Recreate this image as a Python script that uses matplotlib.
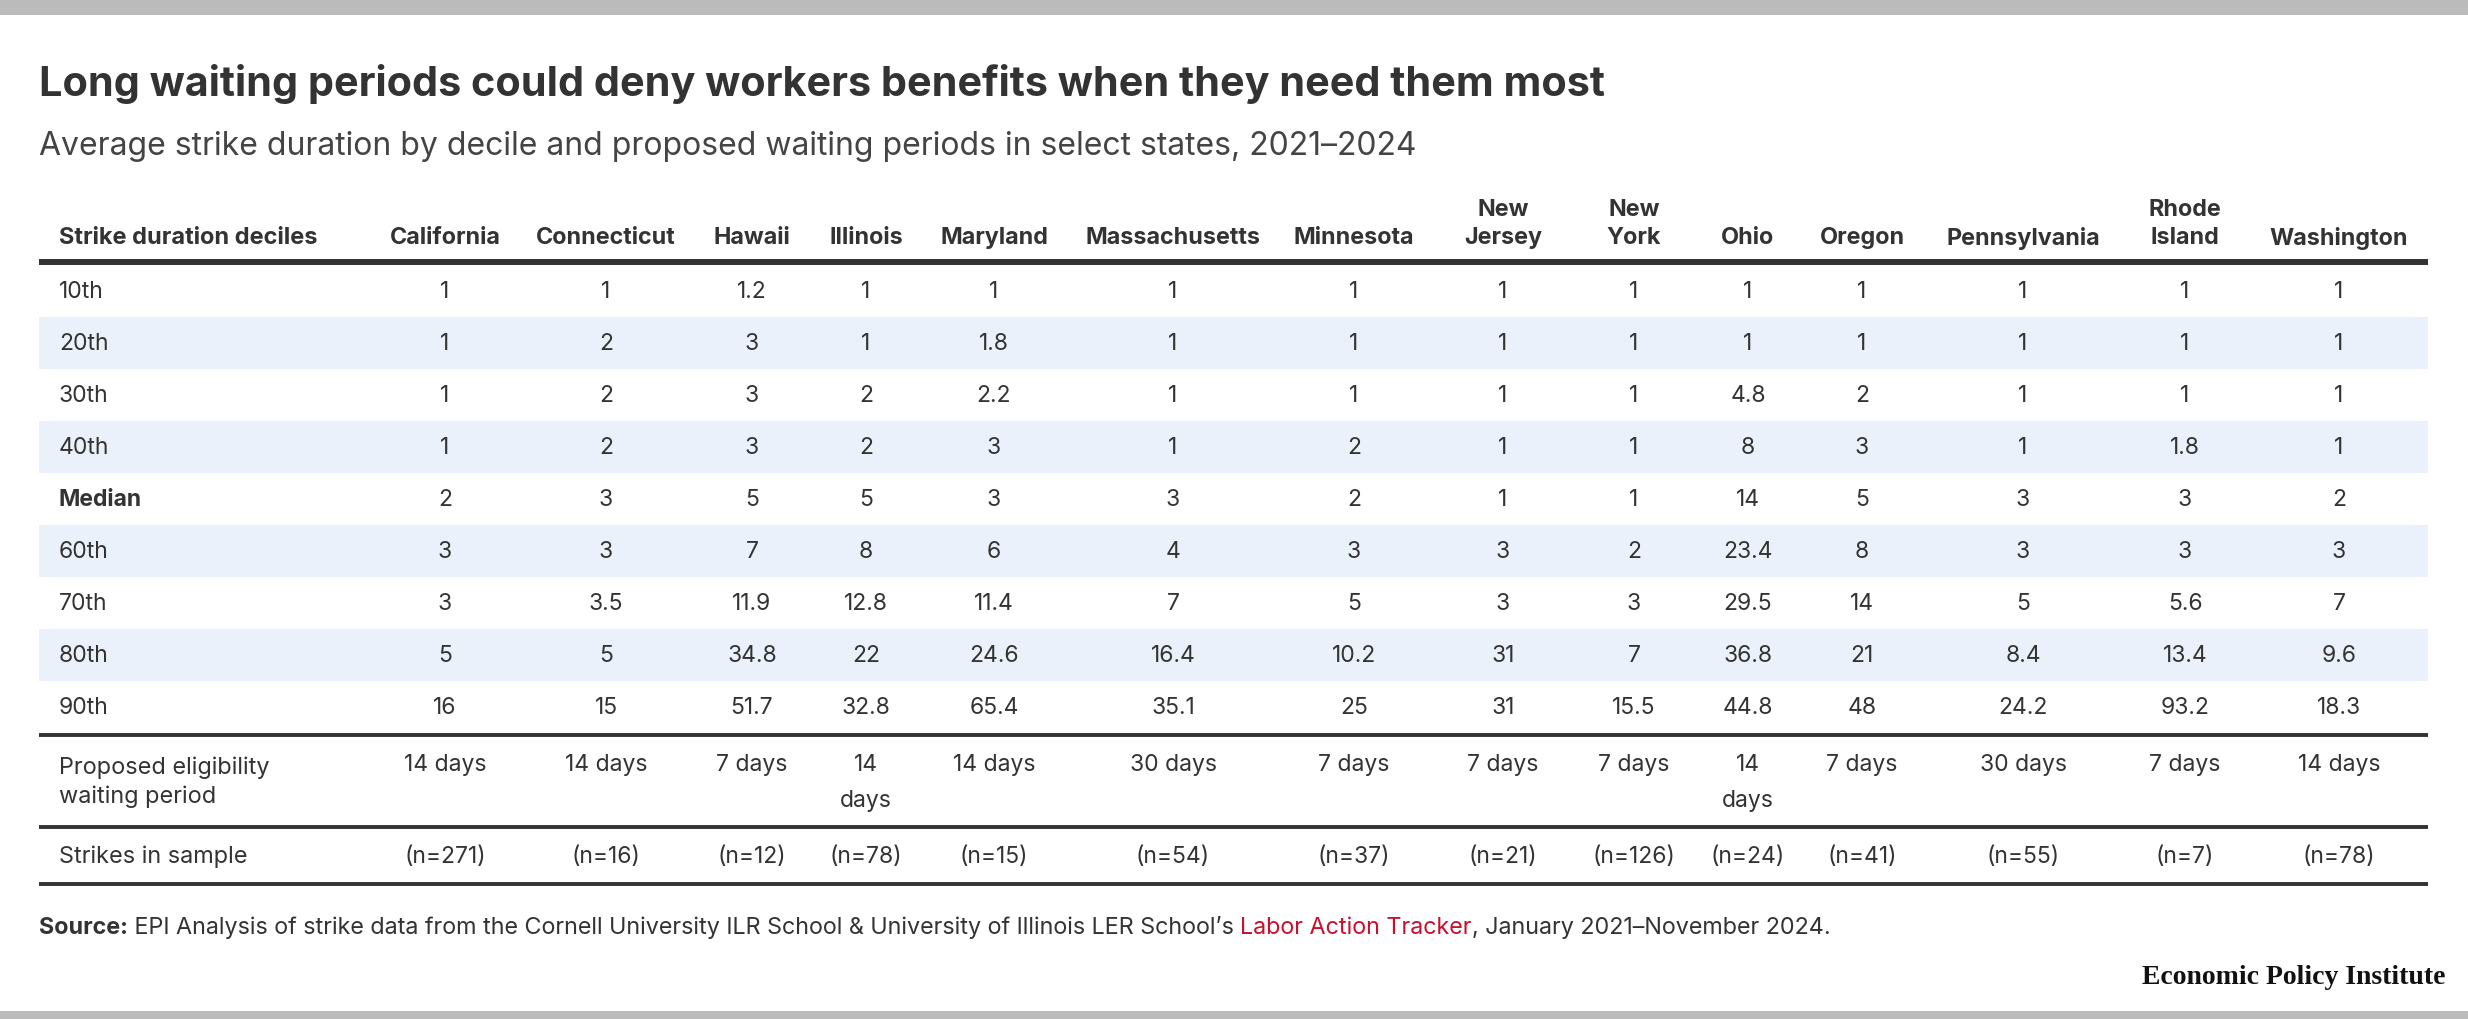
import matplotlib
matplotlib.use("Agg")
import matplotlib.pyplot as plt

W, H = 2468, 1020
plt.rcParams['font.family'] = ['Inter', 'DejaVu Sans']

states = ["California", "Connecticut", "Hawaii", "Illinois", "Maryland", "Massachusetts",
          "Minnesota", "New\nJersey", "New\nYork", "Ohio", "Oregon", "Pennsylvania",
          "Rhode\nIsland", "Washington"]
deciles = ["10th", "20th", "30th", "40th", "Median", "60th", "70th", "80th", "90th"]

d10 = [1, 1, 1.2, 1, 1, 1, 1, 1, 1, 1, 1, 1, 1, 1]
d20 = [1, 2, 3, 1, 1.8, 1, 1, 1, 1, 1, 1, 1, 1, 1]
d30 = [1, 2, 3, 2, 2.2, 1, 1, 1, 1, 4.8, 2, 1, 1, 1]
d40 = [1, 2, 3, 2, 3, 1, 2, 1, 1, 8, 3, 1, 1.8, 1]
d50 = [2, 3, 5, 5, 3, 3, 2, 1, 1, 14, 5, 3, 3, 2]
d60 = [3, 3, 7, 8, 6, 4, 3, 3, 2, 23.4, 8, 3, 3, 3]
d70 = [3, 3.5, 11.9, 12.8, 11.4, 7, 5, 3, 3, 29.5, 14, 5, 5.6, 7]
d80 = [5, 5, 34.8, 22, 24.6, 16.4, 10.2, 31, 7, 36.8, 21, 8.4, 13.4, 9.6]
d90 = [16, 15, 51.7, 32.8, 65.4, 35.1, 25, 31, 15.5, 44.8, 48, 24.2, 93.2, 18.3]
decile_rows = [d10, d20, d30, d40, d50, d60, d70, d80, d90]

waiting_days = [14, 14, 7, 14, 14, 30, 7, 7, 7, 14, 7, 30, 7, 14]
wrapped_wait = ["Illinois", "Ohio"]  # narrow columns, text wraps
strikes_n = [271, 16, 12, 78, 15, 54, 37, 21, 126, 24, 41, 55, 7, 78]

# layout (pixels from top-left)
col_x = [445, 606, 752, 866, 994, 1173, 1354, 1503, 1634, 1748, 1862, 2023, 2185, 2339]
left, right = 39, 2428
text_left = 59
row0, row_h = 292, 52
dark = "#333333"
band = "#eaf1fa"
fs_body = 16.5
fs_head = 16.8

fig = plt.figure(figsize=(W / 100, H / 100), dpi=100)
ax = fig.add_axes([0, 0, 1, 1])
ax.set_xlim(0, W)
ax.set_ylim(H, 0)
ax.axis("off")

# gray bars top & bottom
ax.axhspan(0, 16, color="#bbbbbb", lw=0)
ax.axhspan(1012, H, color="#bbbbbb", lw=0)

ax.text(left, 84, "Long waiting periods could deny workers benefits when they need them most",
        fontsize=29.8, fontweight="bold", color=dark, va="center", ha="left")
ax.text(left, 147, "Average strike duration by decile and proposed waiting periods in select states, 2021\u20132024",
        fontsize=23, color="#444444", va="center", ha="left")

# header
ax.text(text_left, 238, "Strike duration deciles", fontsize=17, fontweight="bold",
        color=dark, va="center", ha="left")
for x, name in zip(col_x, states):
    lines = name.split("\n")
    for i, ln in enumerate(lines):
        y = 238 - (len(lines) - 1 - i) * 28
        ax.text(x, y, ln, fontsize=fs_head, fontweight="bold", color=dark, va="center", ha="center")
ax.plot([left, right], [263, 263], color=dark, lw=4.3, solid_capstyle="butt")

# decile rows
for r, (lab, vals) in enumerate(zip(deciles, decile_rows)):
    yc = row0 + r * row_h
    if r % 2 == 1:
        ax.fill_between([left, right], yc - row_h / 2, yc + row_h / 2, color=band, lw=0)
    ax.text(text_left, yc, lab, fontsize=fs_body, color=dark, va="center", ha="left",
            fontweight="bold" if lab == "Median" else "normal")
    for x, v in zip(col_x, vals):
        ax.text(x, yc, f"{v:g}", fontsize=fs_body, color=dark, va="center", ha="center")

ax.plot([left, right], [736, 736], color=dark, lw=2.8, solid_capstyle="butt")

# waiting period row
ax.text(text_left, 768, "Proposed eligibility", fontsize=16.9, color=dark, va="center", ha="left")
ax.text(text_left, 797, "waiting period", fontsize=16.9, color=dark, va="center", ha="left")
for x, name, d in zip(col_x, states, waiting_days):
    if name in wrapped_wait:
        ax.text(x, 765, f"{d}", fontsize=fs_body, color=dark, va="center", ha="center")
        ax.text(x, 801, "days", fontsize=fs_body, color=dark, va="center", ha="center")
    else:
        ax.text(x, 765, f"{d} days", fontsize=fs_body, color=dark, va="center", ha="center")

ax.plot([left, right], [828, 828], color=dark, lw=2.8, solid_capstyle="butt")

# sample row
ax.text(text_left, 857, "Strikes in sample", fontsize=16.9, color=dark, va="center", ha="left")
for x, n in zip(col_x, strikes_n):
    ax.text(x, 857, f"(n={n})", fontsize=fs_body, color=dark, va="center", ha="center")

ax.plot([left, right], [885, 885], color=dark, lw=2.8, solid_capstyle="butt")

# source line, pieced together
renderer = fig.canvas.get_renderer()
pieces = [("Source:", "bold", dark),
          (" EPI Analysis of strike data from the Cornell University ILR School & University of Illinois LER School\u2019s ", "normal", dark),
          ("Labor Action Tracker", "normal", "#c8102e"),
          (", January 2021\u2013November 2024.", "normal", dark)]
xcur = left
for txt, wt, col in pieces:
    t = ax.text(xcur, 928, txt, fontsize=16.8, fontweight=wt, color=col, va="center", ha="left")
    bb = t.get_window_extent(renderer=renderer)
    xcur += bb.width

ax.text(2446, 978, "Economic Policy Institute", fontsize=20, fontweight="bold",
        family="Liberation Serif", color="#111111", va="center", ha="right")

fig.savefig("out.png", dpi=100)
